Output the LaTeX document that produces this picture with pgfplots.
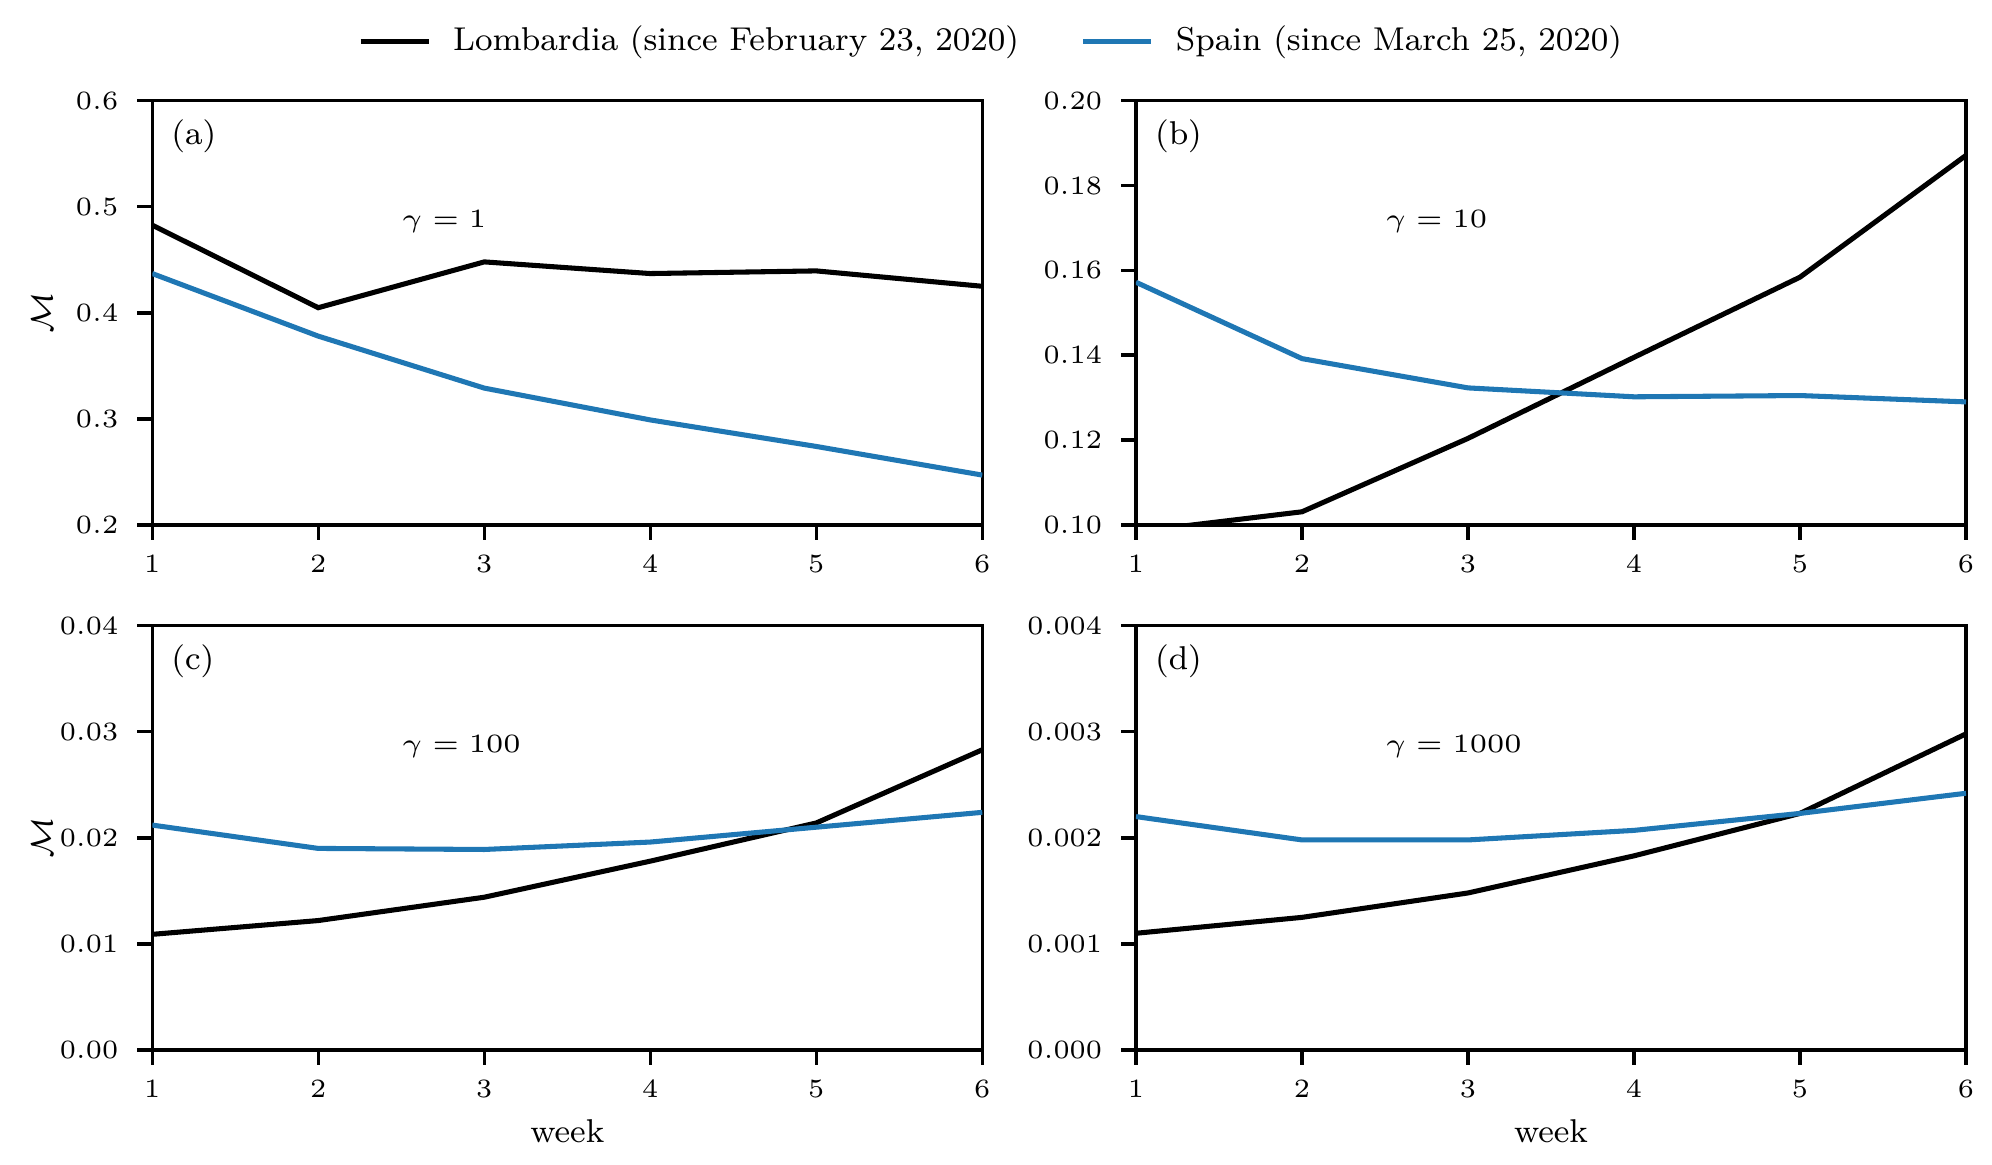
\documentclass[border=0pt]{standalone}
\usepackage{pgfplots}
\pgfplotsset{compat=1.18}
\definecolor{tabblue}{HTML}{1F77B4}
\newcommand{\lgfont}{\fontsize{7.5}{9}\selectfont}
\newcommand{\tkfont}{\fontsize{6}{7}\selectfont}
\newcommand{\gmfont}{\fontsize{6.5}{7.5}\selectfont}
\pgfplotsset{
  myaxis/.style={
    scale only axis, width=188.64pt, height=96.43pt,
    anchor=north west,
    xmin=1, xmax=6, xtick={1,2,3,4,5,6},
    tick align=outside, major tick length=3.4pt,
    xtick pos=left, ytick pos=left,
    axis line style={line width=0.8pt},
    every tick/.style={black, line width=0.8pt},
    tick label style={font=\tkfont},
    yticklabel style={xshift=-0.8pt},
    xticklabel style={yshift=0pt},
    scaled y ticks=false,
    clip mode=individual,
    every axis plot/.append style={line width=1.15pt},
  },
}
\tikzset{
  panel/.style={anchor=north west, inner sep=0pt, font=\lgfont},
  gam/.style={anchor=base west, inner sep=0pt, font=\gmfont, xscale=1.07},
}
\begin{document}
\begin{tikzpicture}
\useasboundingbox (0,0) rectangle (452.73pt,264.77pt);
% (a)
\begin{axis}[myaxis, at={(34.61pt,241.89pt)},
  ymin=0.2, ymax=0.6, ytick={0.2,0.3,0.4,0.5,0.6},
  yticklabel style={/pgf/number format/.cd, fixed, fixed zerofill, precision=1},
  legend columns=2,
  legend style={draw=none, fill=none, at={(1.0146,1.139)}, anchor=center, font=\lgfont,
    /tikz/every odd column/.append style={column sep=3pt},
    /tikz/every even column/.append style={column sep=12pt}},
  legend image code/.code={\draw[#1,line width=1.15pt] (0pt,0pt) -- (15.5pt,0pt);},
]
\addplot[black] coordinates {(1,0.4826) (2,0.4048) (3,0.448) (4,0.437) (5,0.4395) (6,0.425)};
\addlegendentry{Lombardia (since February 23, 2020)}
\addplot[tabblue] coordinates {(1,0.437) (2,0.378) (3,0.329) (4,0.299) (5,0.274) (6,0.247)};
\addlegendentry{Spain (since March 25, 2020)}
\node[panel] at (rel axis cs:0.022,0.958) {(a)};
\node[gam] at (rel axis cs:0.30,0.70) {$\gamma = 1$};
\node[rotate=90, font=\lgfont] at ([xshift=-25.1pt]rel axis cs:0,0.5) {$\mathcal{M}$};
\end{axis}
% (b)
\begin{axis}[myaxis, at={(258.18pt,241.89pt)},
  ymin=0.10, ymax=0.20, ytick={0.10,0.12,0.14,0.16,0.18,0.20},
  yticklabel style={/pgf/number format/.cd, fixed, fixed zerofill, precision=2},
]
\addplot[black] coordinates {(1,0.0984) (2,0.1031) (3,0.1204) (4,0.1395) (5,0.1584) (6,0.1871)};
\addplot[tabblue] coordinates {(1,0.1572) (2,0.1392) (3,0.1323) (4,0.1302) (5,0.1305) (6,0.1290)};
\node[panel] at (rel axis cs:0.022,0.958) {(b)};
\node[gam] at (rel axis cs:0.30,0.70) {$\gamma = 10$};
\end{axis}
% (c)
\begin{axis}[myaxis, at={(34.61pt,122.57pt)},
  ymin=0, ymax=0.04, ytick={0,0.01,0.02,0.03,0.04},
  yticklabel style={/pgf/number format/.cd, fixed, fixed zerofill, precision=2},
]
\addplot[black] coordinates {(1,0.0109) (2,0.0122) (3,0.0144) (4,0.0178) (5,0.0214) (6,0.0283)};
\addplot[tabblue] coordinates {(1,0.0212) (2,0.0190) (3,0.0189) (4,0.0196) (5,0.0210) (6,0.0224)};
\node[panel] at (rel axis cs:0.022,0.958) {(c)};
\node[gam] at (rel axis cs:0.30,0.70) {$\gamma = 100$};
\node[rotate=90, font=\lgfont] at ([xshift=-25.1pt]rel axis cs:0,0.5) {$\mathcal{M}$};
\node[anchor=base, font=\lgfont] at ([yshift=-21.07pt]rel axis cs:0.5,0) {week};
\end{axis}
% (d)
\begin{axis}[myaxis, at={(258.18pt,122.57pt)},
  ymin=0, ymax=0.004, ytick={0,0.001,0.002,0.003,0.004},
  yticklabel style={/pgf/number format/.cd, fixed, fixed zerofill, precision=3},
]
\addplot[black] coordinates {(1,0.00110) (2,0.00125) (3,0.00148) (4,0.00183) (5,0.00223) (6,0.00298)};
\addplot[tabblue] coordinates {(1,0.00220) (2,0.00198) (3,0.00198) (4,0.00207) (5,0.00223) (6,0.00242)};
\node[panel] at (rel axis cs:0.022,0.958) {(d)};
\node[gam] at (rel axis cs:0.30,0.70) {$\gamma = 1000$};
\node[anchor=base, font=\lgfont] at ([yshift=-21.07pt]rel axis cs:0.5,0) {week};
\end{axis}
\end{tikzpicture}
\end{document}
